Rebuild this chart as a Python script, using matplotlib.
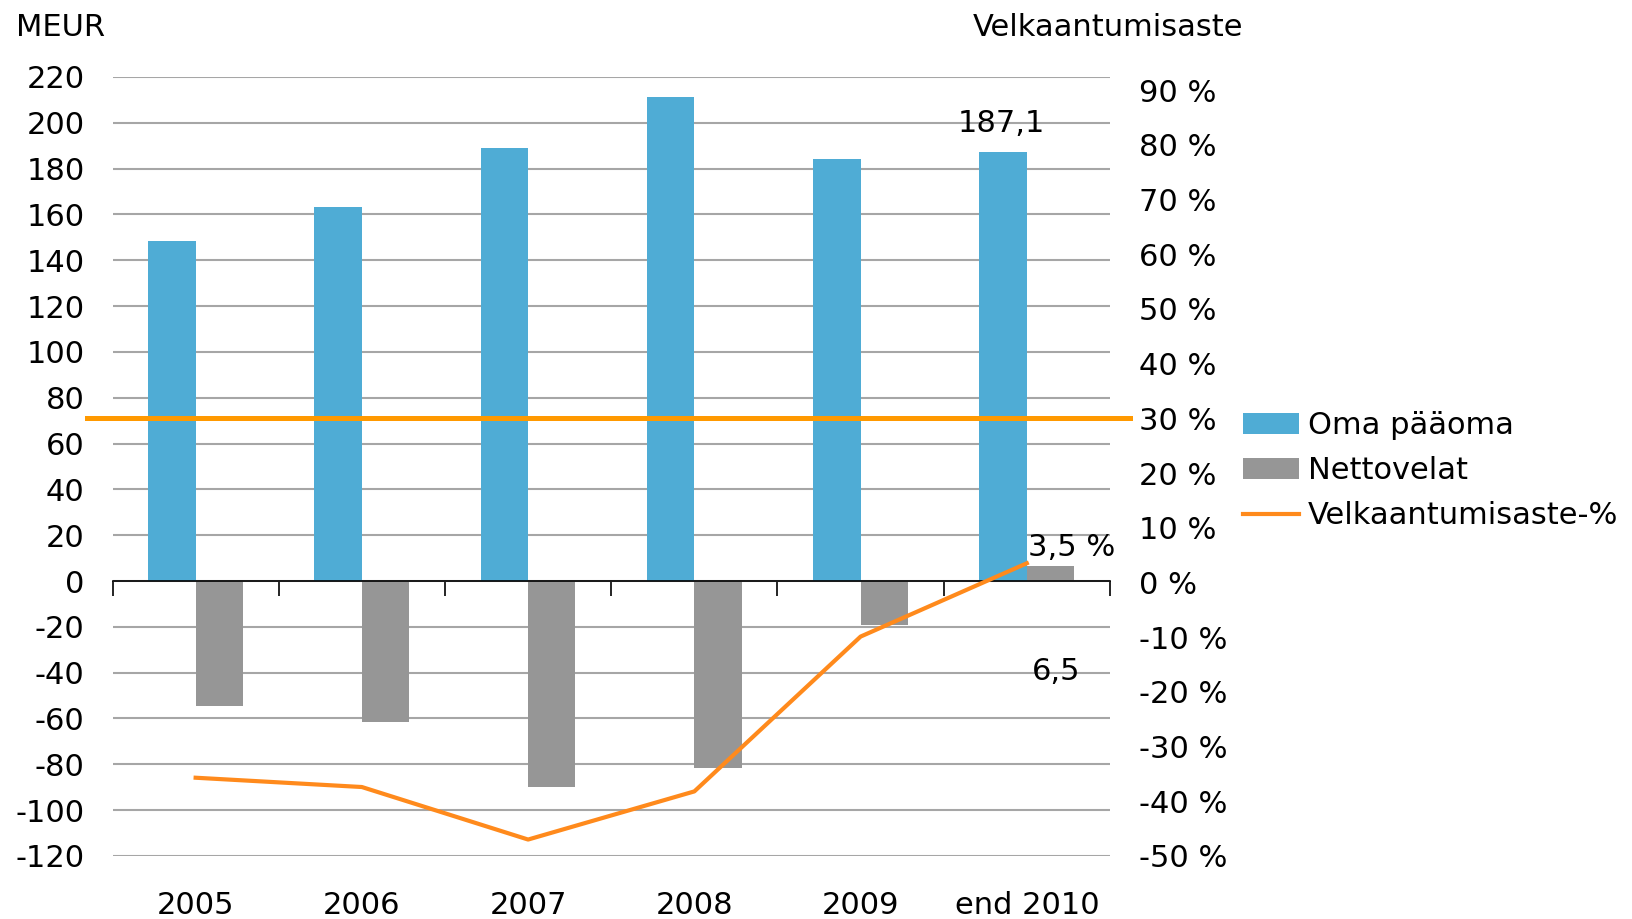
import matplotlib.pyplot as plt
import numpy as np

plt.rcParams['font.family'] = ['DejaVu Sans']
plt.rcParams['axes.unicode_minus'] = False

# data
years = ['2005', '2006', '2007', '2008', '2009', 'end 2010']
oma_paaoma = [148.6, 163.2, 189.0, 211.4, 184.0, 187.1]
nettovelat = [-54.4, -61.4, -90.0, -81.8, -19.1, 6.5]
velkaantumisaste = [-35.7, -37.4, -47.0, -38.2, -9.9, 3.5]
tavoite = 30
left_ticks = list(range(-120, 221, 20))
right_ticks = list(range(-50, 91, 10))

fs = 22
blue = '#4FACD5'
grey = '#969696'
orange_line = '#FF8A1C'
orange_target = '#FF9900'

fig = plt.figure(figsize=(16.33, 9.19), dpi=100)
ax = fig.add_axes([0.0689, 0.0686, 0.6108, 0.8477])

x = np.arange(len(years))
w = 0.285
b1 = ax.bar(x - w / 2, oma_paaoma, w, color=blue, label='Oma pääoma', zorder=3)
b2 = ax.bar(x + w / 2, nettovelat, w, color=grey, label='Nettovelat', zorder=3)

ax.set_xlim(-0.5, len(years) - 0.5)
ax.set_ylim(-120, 220)
ax.set_yticks(left_ticks)
ax.set_yticklabels([str(t) for t in left_ticks])
ax.grid(axis='y', color='#A6A6A6', lw=1.5)
ax.set_axisbelow(True)
for s in ['top', 'right', 'left']:
    ax.spines[s].set_visible(False)
ax.spines['bottom'].set_position(('data', 0))
ax.spines['bottom'].set_color('black')
ax.spines['bottom'].set_linewidth(1.2)
ax.spines['bottom'].set_zorder(4)
ax.set_xticks([])
ax.set_xticks(np.arange(-0.5, len(years), 1), minor=True)
ax.tick_params(axis='x', which='minor', length=11, width=1.2, direction='out')
ax.tick_params(axis='y', length=0, pad=20, labelsize=fs)
for xi, lab in zip(x, years):
    ax.text(xi, -0.063, lab, transform=ax.get_xaxis_transform(),
            ha='center', va='center', fontsize=fs)

ax.annotate('187,1', xy=(x[-1] - w / 2, oma_paaoma[-1]), xytext=(-1, 21),
            textcoords='offset points', ha='center', va='center', fontsize=fs)
ax.annotate('6,5', xy=(x[-1] + w / 2, nettovelat[-1]), xytext=(4, -76),
            textcoords='offset points', ha='center', va='center', fontsize=fs)

ax2 = ax.twinx()
ax2.set_ylim(-50, 92.4)
ax2.set_yticks(right_ticks)
ax2.set_yticklabels([f'{t} %' for t in right_ticks])
ax2.tick_params(axis='y', length=0, pad=21, labelsize=fs)
for s in ax2.spines.values():
    s.set_visible(False)
ln, = ax2.plot(x, velkaantumisaste, color=orange_line, lw=3,
               label='Velkaantumisaste-%', zorder=5)
ax2.axhline(tavoite, xmin=-0.026, xmax=1.0198, color=orange_target, lw=3.6,
            clip_on=False, zorder=6)
ax2.annotate('3,5 %', xy=(x[-1], velkaantumisaste[-1]), xytext=(1, 11.5),
             textcoords='offset points', ha='left', va='center', fontsize=fs)

fig.text(16 / 1633, 1 - 27 / 919, 'MEUR', ha='left', va='center', fontsize=fs)
fig.text(1108 / 1633, 1 - 28 / 919, 'Velkaantumisaste', ha='center', va='center', fontsize=fs)

fig.legend([b1, b2, ln], ['Oma pääoma', 'Nettovelat', 'Velkaantumisaste-%'],
           loc='upper left', bbox_to_anchor=(1243 / 1633, 1 - 411 / 919),
           frameon=False, fontsize=fs, handlelength=1.83, handletextpad=0.3,
           labelspacing=0.53, borderpad=0, borderaxespad=0)

fig.savefig('out.png', dpi=100)
